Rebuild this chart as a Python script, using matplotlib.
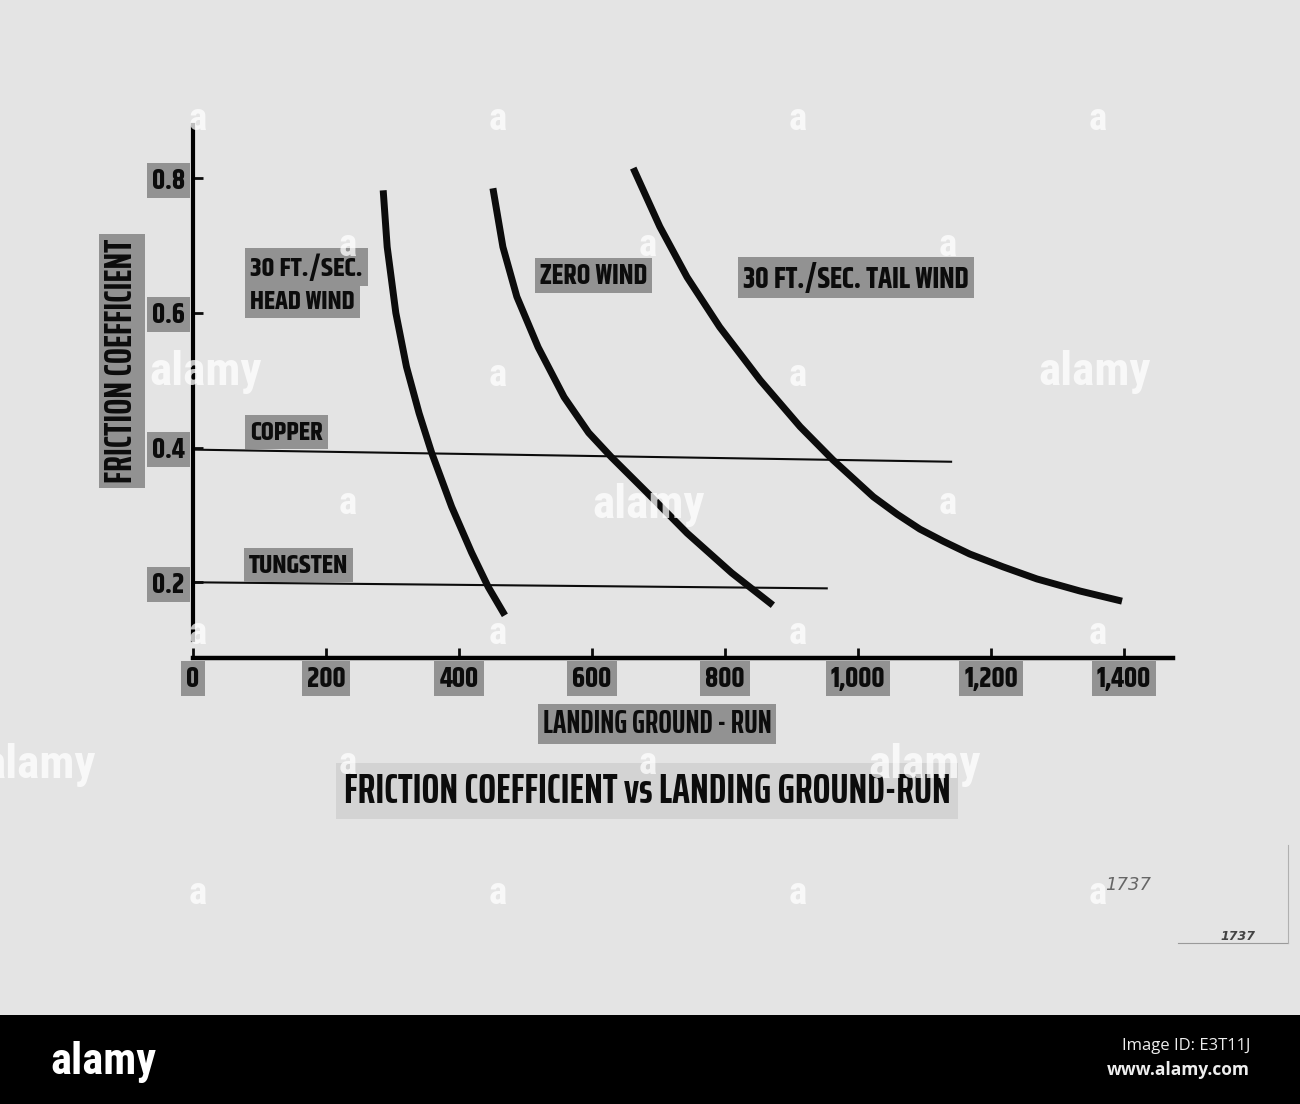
import matplotlib
matplotlib.use("Agg")
import matplotlib.pyplot as plt
from matplotlib import font_manager as fm
from matplotlib.patches import Rectangle

# --- DATA ---
x_ticks = [0, 200, 400, 600, 800, 1000, 1200, 1400]
x_tick_labels = ["0", "200", "400", "600", "800", "1,000", "1,200", "1,400"]
y_ticks = [0.2, 0.4, 0.6, 0.8]
y_tick_labels = ["0.2", "0.4", "0.6", "0.8"]

head_x = [286, 292, 305, 321, 340, 359, 389, 419, 444, 469]
head_y = [0.782, 0.698, 0.600, 0.520, 0.451, 0.392, 0.312, 0.244, 0.193, 0.151]

zero_x = [451, 466, 487, 519, 558, 595, 629, 683, 743, 810, 872]
zero_y = [0.785, 0.698, 0.624, 0.549, 0.475, 0.422, 0.386, 0.333, 0.273, 0.214, 0.166]

tail_x = [662, 702, 743, 792, 853, 913, 962, 1023, 1059, 1093, 1128, 1168, 1218, 1269, 1334, 1397]
tail_y = [0.815, 0.728, 0.653, 0.579, 0.500, 0.431, 0.382, 0.327, 0.301, 0.279, 0.261,
          0.242, 0.223, 0.205, 0.187, 0.172]

copper_x = [0, 1140]
copper_y = [0.397, 0.379]
tungsten_x = [0, 953]
tungsten_y = [0.200, 0.191]

# --- FONTS ---
names = {f.name for f in fm.fontManager.ttflist}


def pick(*fams):
    return next((n for n in fams if n in names), "DejaVu Sans")


LABEL = pick("Khand", "Fjalla One", "Roboto Condensed")          # stencil labels
TITLE = pick("Saira ExtraCondensed", "League Gothic", "Roboto Condensed")
LOGO = pick("Roboto Condensed", "Liberation Sans Narrow")
plt.rcParams["font.family"] = [LABEL, "DejaVu Sans"]
plt.rcParams["font.weight"] = "bold"
plt.rcParams["axes.labelweight"] = "bold"

PAPER = "#e4e4e4"
BOX = "#929292"
INK = "#0c0c0c"
W, H = 1300, 1104


def px(x, y):
    return x / W, 1 - y / H


fig = plt.figure(figsize=(13, 11.04), dpi=100)
fig.patch.set_facecolor(PAPER)
rend = fig.canvas.get_renderer()


def boxed(t, fs, pad_px=5, fc=BOX):
    t.set_fontsize(fs)
    t.set_bbox(dict(boxstyle=f"square,pad={pad_px / (fs * 100 / 72):.3f}",
                    fc=fc, ec="none"))
    return t


def fit(t, width_px, pad_px=5, fc=BOX):
    """Scale a text so that it is width_px long, then give it a label box."""
    bb = t.get_window_extent(renderer=rend)
    return boxed(t, t.get_fontsize() * width_px / max(bb.width, bb.height), pad_px, fc)


ax = fig.add_axes([193 / W, 1 - 658 / H, 980 / W, 533 / H])
ax.patch.set_alpha(0)
ax.set_xlim(0, 980 / 0.665)
ax.set_ylim((717 - 658) / 673.5, (717 - 125) / 673.5)

for s in ["top", "right"]:
    ax.spines[s].set_visible(False)
ax.spines["left"].set_linewidth(3)
ax.spines["left"].set_bounds(0.114, 0.879)
ax.spines["bottom"].set_linewidth(3.2)

# tick label size: "1,400" is about 54 px wide in the scan
probe = fig.text(0, 0, "1,400", fontsize=20)
tfs = 20 * 54 / probe.get_window_extent(renderer=rend).width
probe.remove()

ax.set_xticks(x_ticks, x_tick_labels)
ax.set_yticks(y_ticks, y_tick_labels)
ax.tick_params(axis="x", direction="in", length=7, width=2, pad=6,
               labelsize=tfs, colors=INK)
ax.tick_params(axis="y", direction="in", length=7, width=2, pad=6,
               labelsize=tfs, colors=INK)
tpad = 5 / (tfs * 100 / 72)
for t in ax.get_xticklabels() + ax.get_yticklabels():
    t.set_bbox(dict(boxstyle=f"square,pad={tpad:.3f}", fc=BOX, ec="none"))

# curves
for xs, ys in [(head_x, head_y), (zero_x, zero_y), (tail_x, tail_y)]:
    ax.plot(xs, ys, color=INK, lw=5, solid_capstyle="butt", solid_joinstyle="round")
ax.plot(copper_x, copper_y, color=INK, lw=1.5)
ax.plot(tungsten_x, tungsten_y, color=INK, lw=1.5)

lab = dict(fontsize=20, color=INK, va="center")
hw = fit(ax.text(86, 0.617, "HEAD WIND", ha="left", **lab), 105)
boxed(ax.text(86, 0.668, "30 FT./SEC.", ha="left", **lab), hw.get_fontsize() * 1.04)
fit(ax.text(602, 0.655, "ZERO WIND", ha="center", **lab), 107)
fit(ax.text(997, 0.653, "30 FT./SEC. TAIL WIND", ha="center", **lab), 226)
fit(ax.text(86, 0.423, "COPPER", ha="left", **lab), 73)
fit(ax.text(84, 0.226, "TUNGSTEN", ha="left", **lab), 99)

ax.set_ylabel("FRICTION COEFFICIENT", fontsize=20, color=INK, family=TITLE,
              fontweight="bold", va="center", ha="center")
ax.yaxis.set_label_coords((122 - 193) / 980, (658 - 361) / 533)
fit(ax.yaxis.label, 245, 5)
ax.set_xlabel("LANDING GROUND - RUN", fontsize=20, color=INK, family=TITLE,
              fontweight="bold", va="center", ha="center")
ax.xaxis.set_label_coords((657 - 193) / 980, (658 - 724) / 533)
fit(ax.xaxis.label, 230, 5)

fit(fig.text(*px(647, 791), "FRICTION COEFFICIENT vs LANDING GROUND-RUN",
             fontsize=30, color=INK, family=TITLE, ha="center", va="center"),
    605, 8, fc="#d3d3d3")

# handwritten numbers and paper edge
fig.text(*px(1128, 885), "1737", fontsize=13, style="italic", fontweight="normal",
         color="#666", family="DejaVu Sans", ha="center", va="center")
fig.text(*px(1238, 937), "1737", fontsize=9, style="italic",
         color="#444", family="DejaVu Sans", ha="center", va="center")
fig.add_artist(plt.Line2D([1178 / W, 1288 / W], [1 - 943 / H, 1 - 943 / H],
                          color="#9a9a9a", lw=0.8))
fig.add_artist(plt.Line2D([1288 / W, 1288 / W], [1 - 845 / H, 1 - 943 / H],
                          color="#b0b0b0", lw=0.8))

# watermarks
wm_a = [(198, 120), (498, 120), (798, 120), (1098, 120),
        (348, 245), (648, 245), (948, 245),
        (498, 375), (798, 375),
        (348, 503), (948, 503),
        (198, 633), (498, 633), (798, 633), (1098, 633),
        (348, 763), (648, 763),
        (198, 893), (498, 893), (798, 893), (1098, 893)]
for x, y in wm_a:
    fig.text(*px(x, y), "a", fontsize=28, color="white",
             family=LOGO, alpha=0.75, ha="center", va="center")
wm_big = [(206, 372), (1095, 372), (649, 505), (40, 765), (925, 765)]
for x, y in wm_big:
    fig.text(*px(x, y), "alamy", fontsize=34, color="white",
             family=LOGO, alpha=0.75, ha="center", va="center")

# footer bar
fig.add_artist(Rectangle((0, 0), 1, (H - 1015) / H, transform=fig.transFigure,
                         fc="black", ec="none"))
fig.text(*px(50, 1062), "alamy", fontsize=32, color="white",
         family=LOGO, ha="left", va="center")
fig.text(*px(1250, 1046), "Image ID: E3T11J", fontsize=12, fontweight="normal",
         color="#eeeeee", family="Open Sans", ha="right", va="center")
fig.text(*px(1250, 1070), "www.alamy.com", fontsize=12.5,
         color="#eeeeee", family="Open Sans", ha="right", va="center")

fig.savefig("out.png", dpi=100, facecolor=fig.get_facecolor())
